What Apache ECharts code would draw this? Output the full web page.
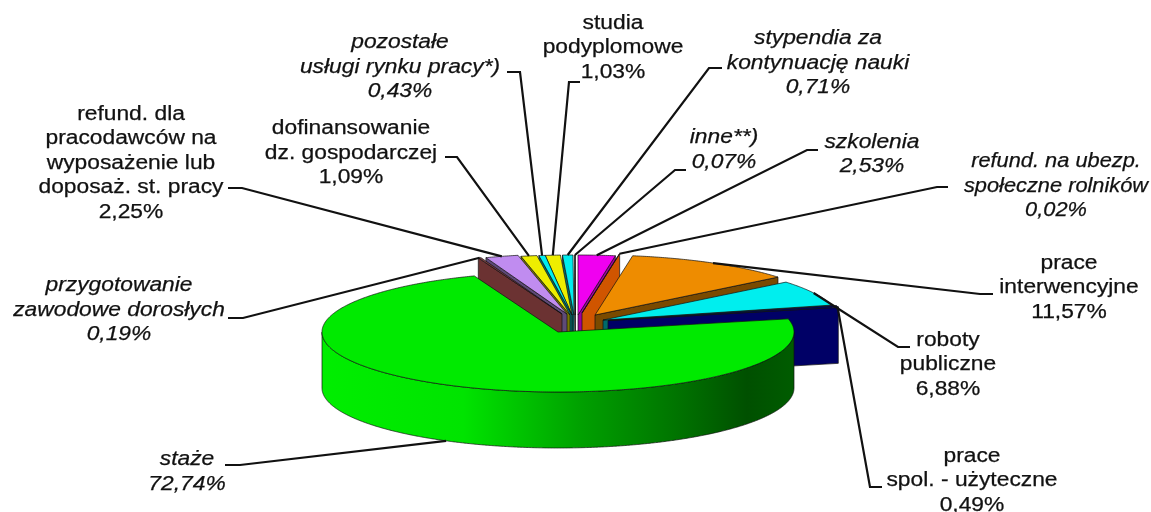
<!DOCTYPE html>
<html><head><meta charset="utf-8">
<style>html,body{margin:0;padding:0;background:#fff}#c{width:1151px;height:512px}</style>
<script src="https://cdn.jsdelivr.net/npm/echarts@6/dist/echarts.min.js"></script>
</head><body><div id="c"></div>
<script>
// data, clockwise from the top of the pie
const categories = ['szkolenia','refund. na ubezp. społeczne rolników','prace interwencyjne','roboty publiczne','prace spol. - użyteczne','staże','przygotowanie zawodowe dorosłych','refund. dla pracodawców na wyposażenie lub doposaż. st. pracy','dofinansowanie dz. gospodarczej','pozostałe usługi rynku pracy*)','studia podyplomowe','stypendia za kontynuację nauki','inne**)'];
const values = [2.53,0.02,11.57,6.88,0.49,72.74,0.19,2.25,1.09,0.43,1.03,0.71,0.07];
const valueLabels = ['2,53%','0,02%','11,57%','6,88%','0,49%','72,74%','0,19%','2,25%','1,09%','0,43%','1,03%','0,71%','0,07%'];
const labelLines = [
 ['szkolenia'],['refund. na ubezp.','społeczne rolników'],['prace','interwencyjne'],['roboty','publiczne'],['prace','spol. - użyteczne'],['staże'],['przygotowanie','zawodowe dorosłych'],['refund. dla','pracodawców na','wyposażenie lub','doposaż. st. pracy'],['dofinansowanie','dz. gospodarczej'],['pozostałe','usługi rynku pracy*)'],['studia','podyplomowe'],['stypendia za','kontynuację nauki'],['inne**)']];
const italicFlags = [true,true,false,false,false,true,true,false,false,true,false,true,true];
const topColors = ['#f000f0','#e85a00','#ee8c00','#00eeee','#000066','#00ea00','#804040','#c08cf0','#eeee00','#00eeee','#eeee00','#00eeee','#ffffff'];
const sideColors = ['#a000a0','#d05500','#7a4a00','#006a6a','#000066','#006000','#6b3232','#5e4a78','#787800','#007070','#787800','#007070','#f0f0f0'];

// layout (pixels), separate from the data
const RX = 236, RY = 60, DEPTH = 56;
const apexX = [578,582,595,603,608,558,562,567,570,572,572,574,575.5];
const apexY = [315,313,315,320,320.5,332,314,314,315,315,315,315,315];
const labelX = [872,1056,1069,948,972,187,119,131,351,400,613,818,724];
const labelY = [154.5,186,287.5,364.5,480.5,472,310,163,153,67,47.5,63,150];
const elbowA = [[818,150],[948,187],[993,294],[910,347],[882,487],[225,465],[228,318],[228,188],[445,157],[507,72],[580,82],[722,68],[686,170]];
const elbowB = [[807,150],[937,187],[980,294],[898,347],[870,487],[240,465],[243,318],[242,188],[457,157],[520,72],[569,82],[709,68],[675,170]];
const textStretch = [1.14,1.09,1.14,1.14,1.14,1.14,1.14,1.14,1.14,1.14,1.14,1.14,1.14];

const total = values.reduce((a,b)=>a+b,0);
const ends = []; let run = 0;
values.forEach(v=>{const t1 = 90-run/total*360; run+=v; const t2 = 90-run/total*360; ends.push([t2,t1]);});
const rad = d=>d*Math.PI/180;
function rim(i,t,dz){return [apexX[i]+RX*Math.cos(rad(t)), apexY[i]-RY*Math.sin(rad(t))+(dz||0)];}
function midT(i){return (ends[i][0]+ends[i][1])/2;}
const order = values.map((_,i)=>i).sort((a,b)=>Math.sin(rad(midT(b)))-Math.sin(rad(midT(a))));
const rank = {}; order.forEach((i,k)=>rank[i]=k);
const EDGE = {stroke:'#111',lineWidth:0.7};

function sliceItem(params, api){
  const i = params.dataIndex;
  const share = api.value(0)/total*360;
  const tHi = ends[i][1], tLo = tHi-share;
  const base = rank[i]*10, children = [];
  const apex = [apexX[i],apexY[i]];
  const apexD = [apexX[i],apexY[i]+DEPTH];
  const face = (t,z)=>children.push({type:'polygon',z2:base+z,
    shape:{points:[apex,rim(i,t),rim(i,t,DEPTH),apexD]},style:{fill:sideColors[i],...EDGE}});
  if (Math.cos(rad(tLo))>0) face(tLo,1);
  if (Math.cos(rad(tHi))<0) face(tHi,1);
  const wall = [], back = [];
  for (let s=0;s<=720;s++){
    const t = tLo+(tHi-tLo)*s/720;
    if (Math.sin(rad(t))<=0){wall.push(rim(i,t)); back.push(rim(i,t,DEPTH));}
  }
  if (wall.length>1){
    const isMain = share>180;
    children.push({type:'polygon',z2:base+2,
      shape:{points:wall.concat(back.reverse())},
      style:{fill:isMain?new echarts.graphic.LinearGradient(0,0,1,0,[
        {offset:0,color:'#00ee00'},{offset:0.3,color:'#00e400'},{offset:0.55,color:'#00a000'},{offset:0.75,color:'#007400'},{offset:0.9,color:'#005000'},{offset:1,color:'#005c00'}]):sideColors[i],...EDGE}});
  }
  const pts = [apex];
  const n = Math.max(2,Math.ceil(share*2));
  for (let s=0;s<=n;s++) pts.push(rim(i,tLo+(tHi-tLo)*s/n));
  children.push({type:'polygon',z2:base+3,shape:{points:pts},style:{fill:topColors[i],...EDGE}});
  return {type:'group',children};
}

function labelItem(params, api){
  const i = params.dataIndex;
  const t = midT(i);
  const dz = Math.sin(rad(t))<0 ? DEPTH : 0;
  const p = rim(i,t,dz);
  const lines = labelLines[i].concat([valueLabels[i]]);
  return {type:'group',children:[
    {type:'polyline',z2:500,shape:{points:[elbowA[i],elbowB[i],p]},style:{fill:null,stroke:'#111',lineWidth:2.2}},
    {type:'text',z2:510,x:labelX[i],y:labelY[i],scaleX:textStretch[i],style:{text:lines.join('\n'),x:0,y:0,align:'center',verticalAlign:'middle',
      font:(italicFlags[i]?'italic ':'')+'20px "Liberation Sans", Arial, sans-serif',lineHeight:24.5,fill:'#111',stroke:'#111',lineWidth:0.25}}
  ]};
}

const chart = echarts.init(document.getElementById('c'));
chart.setOption({
  animation:false,
  backgroundColor:'#fff',
  series:[
    {type:'custom',coordinateSystem:'none',name:'slices',silent:true,z:2,renderItem:sliceItem,
     data:values.map((v,i)=>({name:categories[i],value:[v]}))},
    {type:'custom',coordinateSystem:'none',name:'labels',silent:true,z:3,renderItem:labelItem,
     data:values.map((v,i)=>({name:categories[i],value:[v]}))}
  ]
});
</script></body></html>
